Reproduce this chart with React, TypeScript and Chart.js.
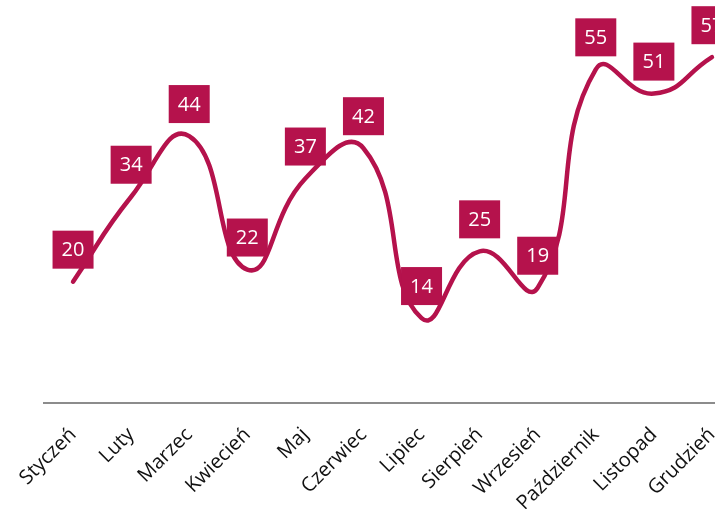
import React, { useEffect, useRef } from "react";
import { Chart, registerables } from "chart.js";

Chart.register(...registerables);

const categories = ["Styczeń", "Luty", "Marzec", "Kwiecień", "Maj", "Czerwiec", "Lipiec", "Sierpień", "Wrzesień", "Październik", "Listopad", "Grudzień"];
const values = [20, 34, 44, 22, 37, 42, 14, 25, 19, 55, 51, 57];

const COLOR = "#B5124C";

const labelPlugin = {
  id: "boxLabels",
  afterDatasetsDraw(chart: any) {
    const ctx = chart.ctx;
    const meta = chart.getDatasetMeta(0);
    ctx.save();
    ctx.font = "20px 'Open Sans'";
    ctx.textAlign = "center";
    ctx.textBaseline = "middle";
    meta.data.forEach((pt: any, i: number) => {
      const text = String(values[i]);
      const w = 41;
      const h = 38;
      const cx = pt.x;
      const cy = pt.y - 32;
      ctx.fillStyle = COLOR;
      ctx.fillRect(cx - w / 2, cy - h / 2, w, h);
      ctx.fillStyle = "#ffffff";
      ctx.fillText(text, cx, cy + 1);
    });
    ctx.restore();
  },
};

export default function App() {
  const ref = useRef<HTMLCanvasElement>(null);
  useEffect(() => {
    if (!ref.current) return;
    const chart = new Chart(ref.current, {
      type: "line",
      data: {
        labels: categories,
        datasets: [
          {
            data: values,
            borderColor: COLOR,
            borderWidth: 4.5,
            borderCapStyle: "round",
            tension: 0.5,
            pointRadius: 0,
            fill: false,
          },
        ],
      },
      options: {
        animation: false,
        responsive: false,
        maintainAspectRatio: false,
        layout: { padding: { top: 39, left: 44, right: 0, bottom: 0 } },
        plugins: { legend: { display: false }, tooltip: { enabled: false } },
        scales: {
          x: {
            offset: true,
            grid: { display: false, drawTicks: false },
            border: { display: true, color: "#8c8c8c", width: 2 },
            afterFit: (scale: any) => {
              scale.height = 106;
              scale.paddingLeft = 0;
              scale.paddingRight = 0;
            },
            ticks: {
              minRotation: 45,
              maxRotation: 45,
              color: "#111111",
              font: { family: "'Open Sans'", size: 20 },
              padding: 20,
              autoSkip: false,
            },
          },
          y: { display: false, min: 0, max: 60 },
        },
      },
      plugins: [labelPlugin],
    });
    return () => chart.destroy();
  }, []);
  return (
    <div style={{ position: "fixed", left: 0, top: 0, width: 715, height: 509, overflow: "hidden", background: "#fff" }}>
      <canvas ref={ref} width={741} height={509} style={{ display: "block" }} />
    </div>
  );
}
